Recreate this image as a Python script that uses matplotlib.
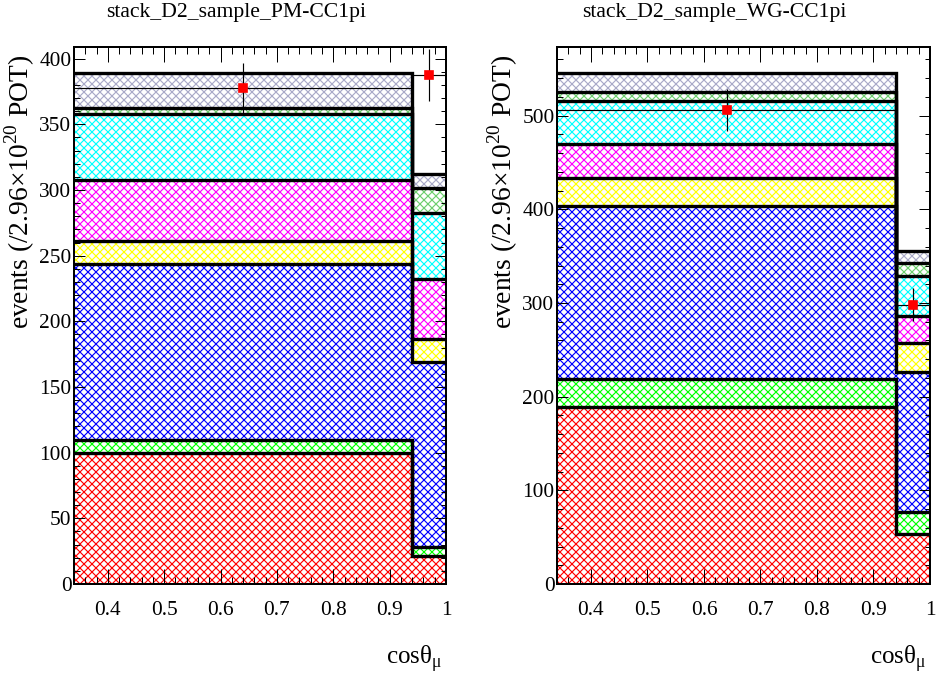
import numpy as np
import matplotlib.pyplot as plt
from matplotlib.ticker import MultipleLocator, FuncFormatter

plt.rcParams['font.family'] = ['Liberation Serif', 'DejaVu Serif']
plt.rcParams['mathtext.fontset'] = 'custom'
plt.rcParams['mathtext.rm'] = 'Liberation Serif'
plt.rcParams['hatch.linewidth'] = 0.7

# bin edges in cos(theta_mu)
edges = [0.34, 0.94, 1.0]

# stack components, bottom to top (events per bin)
pm_red = [99.5, 21.2]
pm_green = [10.5, 6.7]
pm_blue = [133.5, 140.9]
pm_yellow = [17.5, 17.6]
pm_magenta = [46.4, 45.6]
pm_cyan = [50.2, 50.8]
pm_lgreen = [4.6, 19.0]
pm_gray = [27.2, 10.2]
pm_data = [377.4, 387.6]

wg_red = [188.5, 53.3]
wg_green = [30.0, 23.2]
wg_blue = [185.3, 150.2]
wg_yellow = [29.2, 30.5]
wg_magenta = [37.0, 29.3]
wg_cyan = [45.3, 42.1]
wg_lgreen = [10.1, 14.4]
wg_gray = [20.6, 12.5]
wg_data = [505.7, 298.3]

colors = ['#ff0000', '#00ff00', '#0000ff', '#ffff00', '#ff00ff',
          '#00ffff', '#6ccf6c', '#a9a9c8']


def draw_stack(ax, layers, data, ymajor, yminor):
    e = np.array(edges)
    lefts = e[:-1]
    widths = np.diff(e)
    bottom = np.zeros(len(lefts))
    tops = []
    for vals, col in zip(layers, colors):
        vals = np.array(vals)
        ax.bar(lefts, vals, widths, bottom=bottom, align='edge',
               facecolor='white', edgecolor=col, hatch='xxxxx', linewidth=0)
        bottom = bottom + vals
        tops.append(bottom.copy())
    # black outline of every cumulative histogram
    for t in tops:
        ax.stairs(t, e, baseline=None, color='k', lw=2.0, zorder=3)
    centers = (e[:-1] + e[1:]) / 2
    d = np.array(data)
    ax.errorbar(centers, d, xerr=widths / 2, yerr=np.sqrt(d), fmt='s',
                color='red', mec='red', ms=5, ecolor='k', elinewidth=0.7,
                capsize=0, zorder=5)
    ax.set_xlim(edges[0], edges[-1])
    ax.set_ylim(0, 1.05 * tops[-1].max())
    ax.xaxis.set_major_locator(MultipleLocator(0.1))
    ax.xaxis.set_minor_locator(MultipleLocator(0.02))
    ax.yaxis.set_major_locator(MultipleLocator(ymajor))
    ax.yaxis.set_minor_locator(MultipleLocator(yminor))
    fmt = FuncFormatter(lambda v, p: f'{v:g}')
    ax.xaxis.set_major_formatter(fmt)
    ax.yaxis.set_major_formatter(fmt)
    ax.tick_params(which='both', direction='in', top=True, right=True,
                   width=0.6, labelsize=12.8)
    ax.tick_params(axis='x', which='major', length=9, pad=10)
    ax.tick_params(axis='x', which='minor', length=4.2)
    ax.tick_params(axis='y', which='major', length=6.6, pad=1.5)
    ax.tick_params(axis='y', which='minor', length=3.3)
    for s in ax.spines.values():
        s.set_linewidth(1.2)
    ax.set_ylabel('events (/2.96×10$^{20}$ POT)', fontsize=16.5, loc='top')
    ax.yaxis.set_label_coords(-0.10, 0.985)
    ax.set_xlabel(r'cosθ$_{\mathrm{μ}}$', fontsize=15, loc='right')
    ax.xaxis.set_label_coords(0.99, -0.11)


fig = plt.figure(figsize=(936 / 120, 673 / 120), dpi=120)
ax1 = fig.add_axes([74 / 936, 89 / 673, 372 / 936, 537 / 673])
ax2 = fig.add_axes([557 / 936, 89 / 673, 373 / 936, 537 / 673])

draw_stack(ax1, [pm_red, pm_green, pm_blue, pm_yellow, pm_magenta, pm_cyan,
                 pm_lgreen, pm_gray], pm_data, 50, 10)
draw_stack(ax2, [wg_red, wg_green, wg_blue, wg_yellow, wg_magenta, wg_cyan,
                 wg_lgreen, wg_gray], wg_data, 100, 20)

fig.text(236 / 936, 1 - 13 / 673, 'stack_D2_sample_PM-CC1pi',
         ha='center', va='center', fontsize=13)
fig.text(714 / 936, 1 - 13 / 673, 'stack_D2_sample_WG-CC1pi',
         ha='center', va='center', fontsize=13)

fig.savefig('out.png', dpi=120)
